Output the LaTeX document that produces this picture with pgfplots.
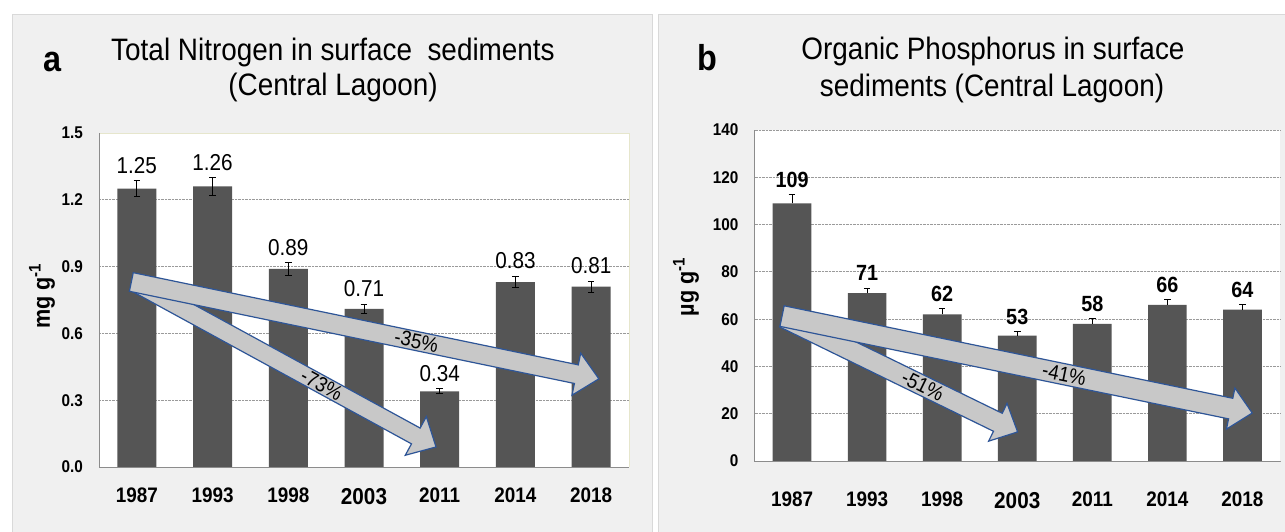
\documentclass[border=0pt]{standalone}
\usepackage{fontspec}
\setmainfont{Liberation Sans}[FakeStretch=0.9]
\usepackage{pgfplots}
\pgfplotsset{compat=1.18}
\usepackage{pgfplotstable}
\usetikzlibrary{calc}

\definecolor{barc}{HTML}{555555}
\definecolor{panelbg}{HTML}{F0F0F0}
\definecolor{panelbd}{HTML}{D9D9D9}
\definecolor{arrowfill}{HTML}{C8C8C8}
\definecolor{arrowline}{HTML}{2E5597}
\definecolor{axisc}{HTML}{8C8C8C}
\definecolor{gridc}{HTML}{9A9A9A}
\definecolor{boxc}{HTML}{E6E6CC}

\pgfplotstableread{
x y err
0 1.25 0.037
1 1.26 0.039
2 0.89 0.028
3 0.71 0.021
4 0.34 0.011
5 0.83 0.026
6 0.81 0.025
}\tableN

\pgfplotstableread{
x y err
0 109 3.6
1 71 2.1
2 62 2.3
3 53 1.7
4 58 2.3
5 66 2.3
6 64 2.1
}\tableP

\newcommand{\fs}[1]{\fontsize{#1}{#1}\selectfont}

\newcommand{\blockarrow}[5]{%
  \coordinate (H) at ($(#2)!#5!(#1)$);
  \filldraw[draw=arrowline, fill=arrowfill, line width=1.2pt, line join=miter]
   ($(#1)!#3!90:(#2)$) -- ($(H)!#3!90:(#2)$) -- ($(H)!#4!90:(#2)$) -- (#2)
   -- ($(H)!#4!-90:(#2)$) -- ($(H)!#3!-90:(#2)$) -- ($(#1)!#3!-90:(#2)$) -- cycle;}

\pgfplotsset{mybar/.style={
  ybar, bar shift=0pt, bar width=0.515, scale only axis,
  anchor=south west,
  xmin=-0.5, xmax=6.5, xtick={0,...,6},
  xticklabels={1987,1993,1998,{\fs{23}2003},2011,2014,2018},
  axis background/.style={fill=white},
  axis line style={draw=none},
  tick style={draw=none},
  ymajorgrids, grid style={gridc, densely dotted, line width=0.8pt},
  xticklabel style={font=\fs{21}\bfseries, inner sep=0pt, anchor=north},
  yticklabel style={font=\fs{17}\bfseries, inner sep=0pt, anchor=east, xshift=-16pt},
  /pgf/number format/assume math mode=true,
  clip=false,
}}

\begin{document}
\begin{tikzpicture}
\useasboundingbox (0pt,0pt) rectangle (1285pt,-531pt);
\fill[white] (0pt,0pt) rectangle (1285pt,-531pt);
\filldraw[fill=panelbg, draw=panelbd, line width=1pt] (12pt,-14pt) rectangle (652pt,-535pt);
\filldraw[fill=panelbg, draw=panelbd, line width=1pt] (658pt,-14pt) rectangle (1290pt,-535pt);

% ---------- panel a ----------
\begin{axis}[mybar, at={(99pt,-467pt)}, width=530pt, height=334pt,
  ymin=0, ymax=1.5, ytick={0,0.3,0.6,0.9,1.2},
  extra y ticks={1.5}, extra y tick style={grid=none},
  xticklabel style={yshift=-16.5pt},
  yticklabel style={/pgf/number format/.cd, fixed, fixed zerofill, precision=1, /tikz/.cd}]
\draw[boxc, line width=1pt] (rel axis cs:0,1) -- (rel axis cs:1,1) -- (rel axis cs:1,0);
\addplot[fill=barc, draw=none,
  error bars/.cd, y dir=both, y explicit,
  error bar style={black, line width=1pt},
  error mark options={rotate=90, black, mark size=3.3pt, line width=1pt}]
  table[x=x, y=y, y error=err] {\tableN};
\addplot[draw=none, fill=none, nodes near coords, point meta=explicit symbolic,
  every node near coord/.append style={font=\fs{23}, text=black, inner sep=0pt, anchor=south, yshift=7pt}]
  table[x=x, y expr=\thisrow{y}+\thisrow{err}, meta=y] {\tableN};
\draw[axisc, line width=1pt] (rel axis cs:0,1) -- (rel axis cs:0,0) -- (rel axis cs:1,0);
\coordinate (A73) at (axis cs:-0.02,0.827);
\coordinate (B73) at (axis cs:3.951,0.090);
\coordinate (A35) at (axis cs:-0.073,0.831);
\coordinate (B35) at (axis cs:6.102,0.396);
\end{axis}

% ---------- panel b ----------
\begin{axis}[mybar, at={(754.5pt,-461pt)}, width=525.5pt, height=331pt,
  ymin=0, ymax=140, ytick={0,20,...,140},
  xticklabel style={yshift=-26.5pt}]
\addplot[fill=barc, draw=none,
  error bars/.cd, y dir=plus, y explicit,
  error bar style={black, line width=1pt},
  error mark options={rotate=90, black, mark size=3.3pt, line width=1pt}]
  table[x=x, y=y, y error=err] {\tableP};
\addplot[draw=none, fill=none, nodes near coords, point meta=explicit symbolic,
  every node near coord/.append style={font=\fs{22}\bfseries, text=black, inner sep=0pt, anchor=south, yshift=7pt}]
  table[x=x, y expr=\thisrow{y}+\thisrow{err}, meta=y] {\tableP};
\draw[axisc, line width=1pt] (rel axis cs:0,1) -- (rel axis cs:0,0) -- (rel axis cs:1,0);
\coordinate (A51) at (axis cs:-0.106,60.5);
\coordinate (B51) at (axis cs:3.005,12.3);
\coordinate (A41) at (axis cs:-0.133,61.3);
\coordinate (B41) at (axis cs:6.130,20.3);
\end{axis}

% ---------- arrows ----------
\blockarrow{A73}{B73}{9pt}{22pt}{23pt}
\blockarrow{A35}{B35}{9.5pt}{21.5pt}{23pt}
\path (A73) -- (B73) node[pos=0.62, sloped, font=\fs{21}, inner sep=0pt] {-73\%};
\path (A35) -- (B35) node[pos=0.61, sloped, font=\fs{21}, inner sep=0pt] {-35\%};
\blockarrow{A51}{B51}{10pt}{21pt}{22pt}
\blockarrow{A41}{B41}{10.5pt}{21pt}{22pt}
\path (A51) -- (B51) node[pos=0.594, sloped, font=\fs{21}, inner sep=0pt] {-51\%};
\path (A41) -- (B41) node[pos=0.60, sloped, font=\fs{21}, inner sep=0pt] {-41\%};

% ---------- titles and labels ----------
\node[anchor=base, font=\fs{31}] at (333pt,-60pt) {Total Nitrogen in surface\ \ sediments};
\node[anchor=base, font=\fs{31}] at (333pt,-95pt) {(Central Lagoon)};
\node[anchor=base, font=\fs{31}] at (993pt,-59pt) {Organic Phosphorus in surface};
\node[anchor=base, font=\fs{31}] at (992pt,-96pt) {sediments (Central Lagoon)};
\node[anchor=base west, font=\fs{36}\bfseries, inner sep=0pt] at (43pt,-71pt) {a};
\node[anchor=base west, font=\fs{36}\bfseries, inner sep=0pt] at (697pt,-70pt) {b};
\node[rotate=90, font=\fs{24}\bfseries, inner sep=0pt] at (42pt,-296pt) {mg g\textsuperscript{-1}};
\node[rotate=90, font=\fs{24}\bfseries, inner sep=0pt] at (686pt,-287pt) {µg g\textsuperscript{-1}};
\end{tikzpicture}
\end{document}
